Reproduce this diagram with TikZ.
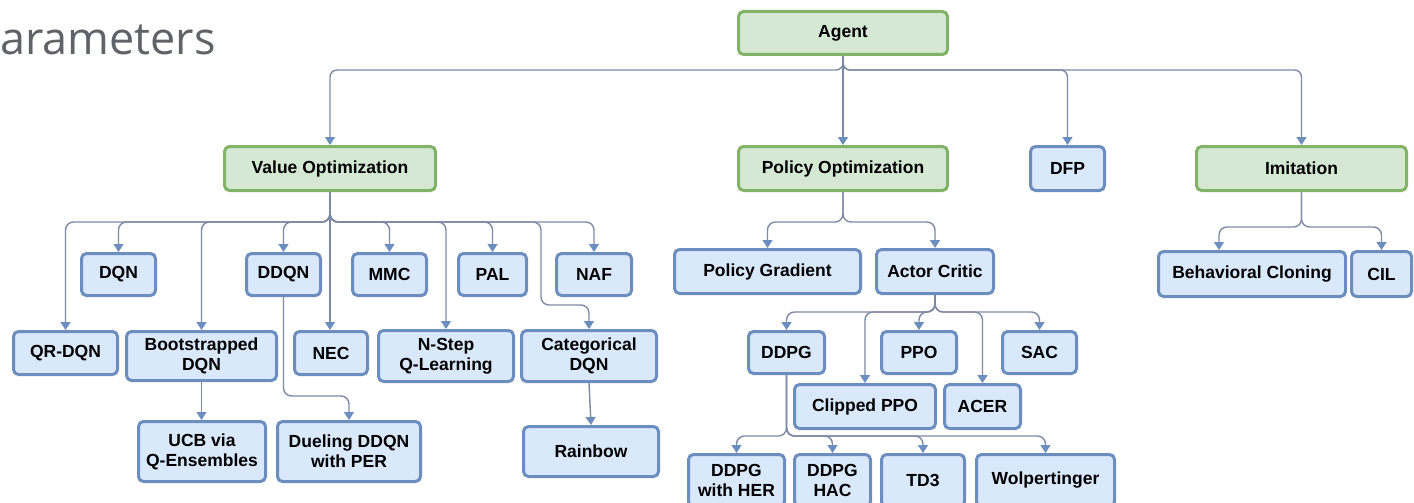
\documentclass[tikz,border=0pt]{standalone}
\usepackage{fontspec}
\setmainfont{Liberation Sans}
\newfontfamily\titlefont{Open Sans}
\usetikzlibrary{arrows.meta}
\definecolor{bluefill}{HTML}{DAE8FC}
\definecolor{blueline}{HTML}{6C8EBF}
\definecolor{greenfill}{HTML}{D5E8D4}
\definecolor{greenline}{HTML}{82B366}
\definecolor{linkcol}{HTML}{7D8AA3}
\definecolor{tipcol}{HTML}{6C8EBF}
\definecolor{titlegrey}{HTML}{5F6368}
\tikzset{
  box/.style={rectangle, rounded corners=5pt, line width=3pt, inner sep=0pt,
    align=center, font=\bfseries\fontsize{17.5}{20}\selectfont, text=black},
  algo/.style={box, draw=blueline, fill=bluefill},
  group/.style={box, draw=greenline, fill=greenfill},
  link/.style={draw=linkcol, line width=1.4pt, rounded corners=8pt,
    -{Triangle[length=8pt,width=10pt,color=tipcol]}},
}
\newcommand{\bx}[6]{\node[#1, minimum width=#4pt, minimum height=#5pt] (#2) at (#3) {#6};}
\begin{document}
\begin{tikzpicture}[x=1pt,y=-1pt]
\useasboundingbox (0,0) rectangle (1414,503);
\clip (0,0) rectangle (1414,503);

\node[anchor=base west, inner sep=0pt, text=titlegrey, font=\titlefont\fontsize{45}{50}\selectfont] (title) at (0,55) {arameters};

% top level
\bx{group}{agent}{843,33}{209}{43}{Agent}
\bx{group}{vo}{330,168.5}{211}{44}{Value Optimization}
\bx{group}{po}{843,168.5}{209}{44}{Policy Optimization}
\bx{algo}{dfp}{1067.5,168.5}{74}{44}{DFP}
\bx{group}{im}{1301.5,168.5}{210}{44}{Imitation}

% value optimization family
\bx{algo}{dqn}{118.5,274.5}{74}{42}{DQN}
\bx{algo}{ddqn}{283.5,274.5}{74}{42}{DDQN}
\bx{algo}{mmc}{389.5,274.5}{74}{42}{MMC}
\bx{algo}{pal}{492.5,274.5}{68}{42}{PAL}
\bx{algo}{naf}{594,274.5}{75}{42}{NAF}
\bx{algo}{qr}{65.5,353}{104}{43}{QR-DQN}
\bx{algo}{boot}{201.5,356}{150}{49}{Bootstrapped\\DQN}
\bx{algo}{nec}{331,353}{73}{43}{NEC}
\bx{algo}{nstep}{446,356}{135}{51}{N-Step\\Q-Learning}
\bx{algo}{cat}{589,356}{135}{51}{Categorical\\DQN}
\bx{algo}{ucb}{202,451.5}{127}{60}{UCB via\\Q-Ensembles}
\bx{algo}{duel}{349,451.5}{143}{60}{Dueling DDQN\\with PER}
\bx{algo}{rain}{591,451.5}{135}{50}{Rainbow}

% policy optimization family
\bx{algo}{pg}{767.5,271.5}{186}{44}{Policy Gradient}
\bx{algo}{ac}{935,271.5}{117}{44}{Actor Critic}
\bx{algo}{ddpg}{786.5,352.5}{76}{42}{DDPG}
\bx{algo}{ppo}{919,352.5}{75}{42}{PPO}
\bx{algo}{sac}{1039.5,352.5}{74}{42}{SAC}
\bx{algo}{clip}{865,406.5}{141}{44}{Clipped PPO}
\bx{algo}{acer}{982.5,406.5}{76}{44}{ACER}
\bx{algo}{her}{736.5,480.5}{96}{52}{DDPG\\with HER}
\bx{algo}{hac}{832.5,480.5}{76}{52}{DDPG\\HAC}
\bx{algo}{td3}{923,480.5}{83}{52}{TD3}
\bx{algo}{wolp}{1045.5,480.5}{138}{52}{Wolpertinger}

% imitation family
\bx{algo}{bc}{1252,274}{187}{45}{Behavioral Cloning}
\bx{algo}{cil}{1381.5,274}{60}{45}{CIL}

% branching levels
\coordinate (af) at (843,70);
\coordinate (vf) at (330,222);
\coordinate (pf) at (843,222);
\coordinate (acf) at (935,312);
\coordinate (df) at (786.5,436);
\coordinate (imf) at (1301.5,227);
\coordinate (dq) at (283.5,396);
\coordinate (cq) at (541,305);

% agent
\draw[link, rounded corners=7pt] (agent.south) -- (af) -| (vo.north);
\draw[link] (agent.south) -- (po.north);
\draw[link, rounded corners=7pt] (agent.south) -- (af) -| (dfp.north);
\draw[link, rounded corners=7pt] (agent.south) -- (af) -| (im.north);

% value optimization
\draw[link] (vo.south) -- (vf) -| (qr.north);
\draw[link] (vo.south) -- (vf) -| (dqn.north);
\draw[link] (vo.south) -- (vf) -| (boot.north);
\draw[link] (vo.south) -- (vf) -| (ddqn.north);
\draw[link] (vo.south) -- (vo.south |- nec.north);
\draw[link] (vo.south) -- (vf) -| (mmc.north);
\draw[link] (vo.south) -- (vf) -| (nstep.north);
\draw[link] (vo.south) -- (vf) -| (pal.north);
\draw[link] (vo.south) -- (vf) -| (cq) -| (cat.north);
\draw[link] (vo.south) -- (vf) -| (naf.north);
\draw[link] (boot.south) -- (boot.south |- ucb.north);
\draw[link] (ddqn.south) -- (dq) -| (duel.north);
\draw[link] (cat.south) -- (rain.north);

% policy optimization
\draw[link] (po.south) -- (pf) -| (pg.north);
\draw[link] (po.south) -- (pf) -| (ac.north);
\draw[link] (ac.south) -- (acf) -| (ddpg.north);
\draw[link] (ac.south) -- (acf) -| (clip.north);
\draw[link] (ac.south) -- (acf) -| (ppo.north);
\draw[link] (ac.south) -- (acf) -| (acer.north);
\draw[link] (ac.south) -- (acf) -| (sac.north);
\draw[link] (ddpg.south) -- (df) -| (her.north);
\draw[link] (ddpg.south) -- (df) -| (hac.north);
\draw[link] (ddpg.south) -- (df) -| (td3.north);
\draw[link] (ddpg.south) -- (df) -| (wolp.north);

% imitation
\draw[link] (im.south) -- (imf) -| ([xshift=-33pt]bc.north);
\draw[link] (im.south) -- (imf) -| (cil.north);
\end{tikzpicture}
\end{document}
